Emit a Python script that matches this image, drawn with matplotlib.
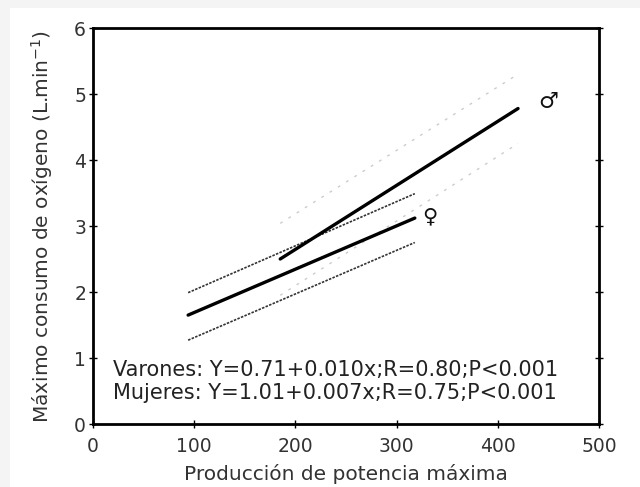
import matplotlib.pyplot as plt
from matplotlib.patches import Rectangle

# regression lines (x = potencia, y = VO2 max)
male_x = [185, 420]
male_y = [2.50, 4.78]
male_hi = [3.04, 5.30]
male_lo = [1.95, 4.25]

female_x = [94, 318]
female_y = [1.65, 3.12]
female_hi = [1.99, 3.49]
female_lo = [1.27, 2.75]

x_ticks = [0, 100, 200, 300, 400, 500]
y_ticks = [0, 1, 2, 3, 4, 5, 6]

fig = plt.figure(figsize=(6.4, 4.87), dpi=100)
fig.patch.set_facecolor('#f4f4f4')
fig.patches.append(Rectangle((10 / 640, 0), 1, 1 - 8 / 487, transform=fig.transFigure,
                             facecolor='white', edgecolor='none', zorder=-1))

ax = fig.add_axes([93 / 640, 1 - 424 / 487, 506 / 640, 396 / 487])

# faint confidence bands for men
ax.plot(male_x, male_hi, color='#cccccc', lw=1.0, ls=(0, (2, 5)))
ax.plot(male_x, male_lo, color='#cccccc', lw=1.0, ls=(0, (2, 5)))
# confidence bands for women
ax.plot(female_x, female_hi, color='#333333', lw=1.2, ls=(0, (1.5, 0.8)))
ax.plot(female_x, female_lo, color='#333333', lw=1.2, ls=(0, (1.5, 0.8)))
# regression lines
ax.plot(male_x, male_y, color='black', lw=2.4, solid_capstyle='round')
ax.plot(female_x, female_y, color='black', lw=2.4, solid_capstyle='round')

ax.text(male_x[1] + 20, male_y[1] + 0.1, '\u2642', fontsize=16, fontweight='bold',
        ha='left', va='center', color='#111111')
ax.text(female_x[1] + 7, female_y[1] + 0.02, '\u2640', fontsize=15, fontweight='bold',
        ha='left', va='center', color='#111111')

ax.text(20, 0.82, 'Varones: Y=0.71+0.010x;R=0.80;P<0.001', fontsize=15, color='#222222',
        va='center')
ax.text(20, 0.47, 'Mujeres: Y=1.01+0.007x;R=0.75;P<0.001', fontsize=15, color='#222222',
        va='center')

ax.set_xlim(0, 500)
ax.set_ylim(0, 6)
ax.set_xticks(x_ticks)
ax.set_yticks(y_ticks)
ax.tick_params(axis='both', which='major', direction='inout', length=6, width=1,
               labelsize=13.5, labelcolor='#333333', pad=2)
ax.tick_params(axis='x', pad=6)
ax.tick_params(right=True, top=False)
for side in ax.spines.values():
    side.set_linewidth(2)

ax.set_xlabel('Producción de potencia máxima', fontsize=14.5, color='#333333', labelpad=6)
ax.set_ylabel('Máximo consumo de oxígeno (L.min$^{-1}$)', fontsize=14.5, color='#333333',
              labelpad=14)

fig.savefig('out.png', dpi=100, facecolor=fig.get_facecolor())
